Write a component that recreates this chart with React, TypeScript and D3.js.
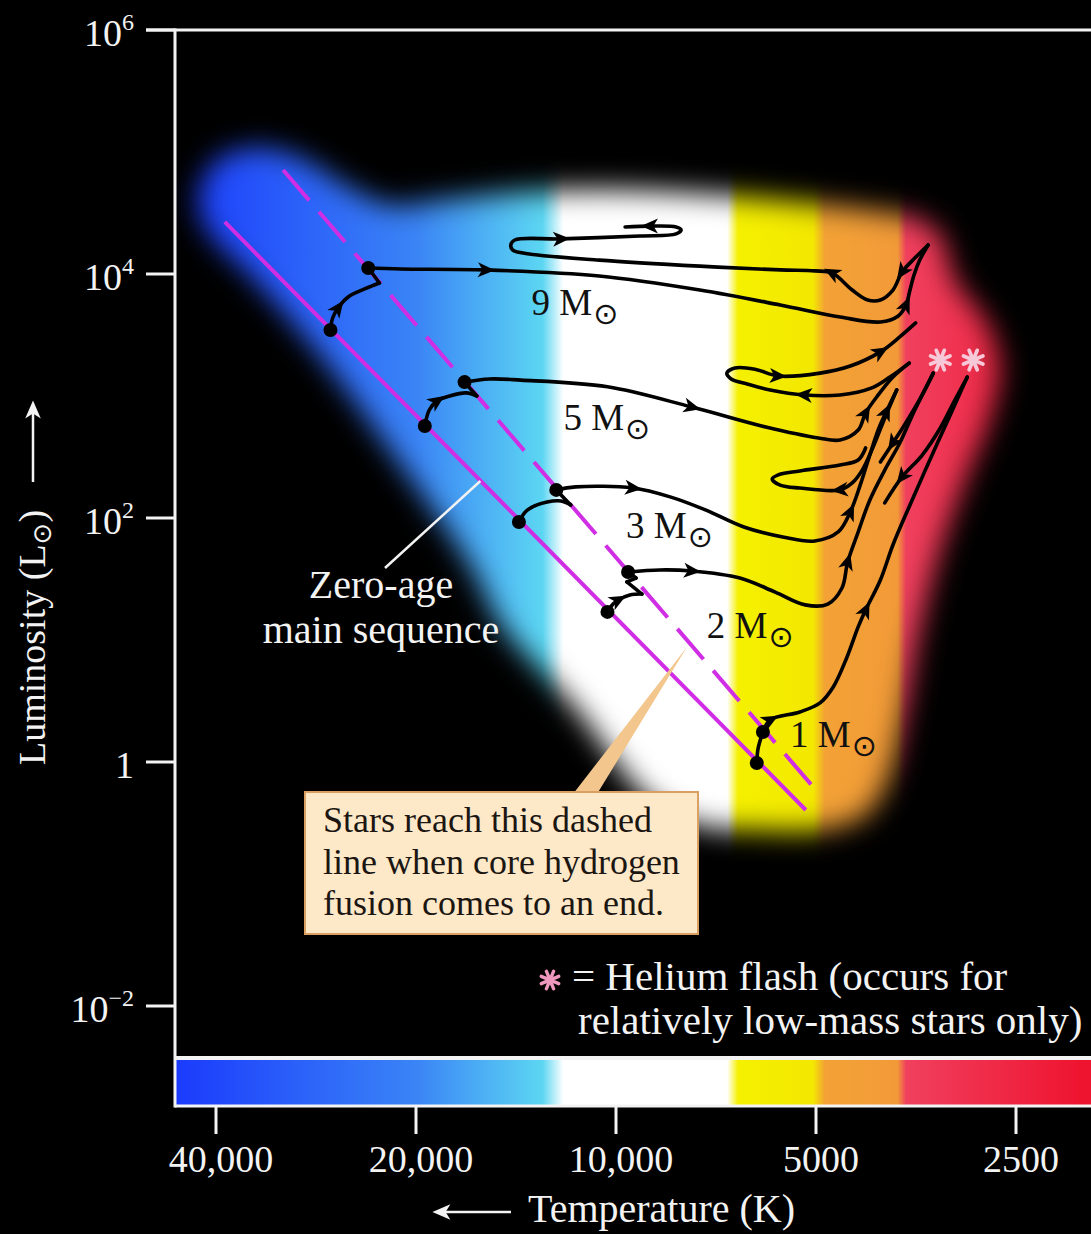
import React from "react";
import * as d3 from "d3";

type Pt = [number, number];

const WIDTH = 1091;
const HEIGHT = 1234;

// Axis ticks: temperature (K, hot to the left) and luminosity (solar units)
const tempTicks = [40000, 20000, 10000, 5000, 2500];
const tempTickLabels = ["40,000", "20,000", "10,000", "5000", "2500"];
const lumTicks = [1e6, 1e4, 1e2, 1, 1e-2];
const lumTickBase = ["10", "10", "10", "1", "10"];
const lumTickExp = ["6", "4", "2", "", "−2"];

// Colour of starlight against surface temperature [T (K), colour]
const colourStops: [number, string][] = [
  [46000, "#1b3bfc"],
  [20000, "#3a84f6"],
  [12900, "#5cd6f2"],
  [12000, "#ffffff"],
  [6800, "#ffffff"],
  [6550, "#f5f000"],
  [5050, "#f3e800"],
  [4850, "#f3a236"],
  [3770, "#f29a38"],
  [3660, "#f0405e"],
  [2000, "#ee1430"],
];

// Zero-age main sequence and end of core hydrogen fusion [T, L]
const zamsLine: Pt[] = [[38800, 26700], [5180, 0.404]];
const tamsLine: Pt[] = [[31700, 71200], [4930, 0.537]];

// Outline of the coloured region behind the tracks [T, L]
const glowEnvelope: Pt[] = [
  [42600, 36800], [41600, 64800], [38800, 94500], [33800, 108000],
  [29400, 86000], [25600, 53600], [21900, 36800], [18400, 40400],
  [13900, 47000], [9860, 48800], [6970, 44400], [5290, 38900],
  [4150, 33500], [3550, 28800], [3250, 20900], [3090, 8930],
  [2780, 4200], [2640, 1800], [2740, 636], [2980, 205],
  [3250, 54.7], [3490, 12.1], [3670, 2.67], [3900, 0.712],
  [4220, 0.368], [4930, 0.277], [6070, 0.277], [7480, 0.305],
  [8890, 0.488], [11600, 2.93], [14900, 13.3], [16600, 41.2],
  [21100, 272], [28200, 2300], [35600, 9810], [40800, 20900],
];

// Evolutionary tracks [T (K), L (L☉)]
const track9: Pt[] = [
  [26900, 3480], [26700, 4360], [26200, 5270], [25300, 6480], [23900, 7540],
  [22700, 8440], [23600, 11200], [21100, 11000], [15700, 10800], [10600, 9630],
  [7480, 7390], [5660, 5570], [4600, 4440], [4000, 4040], [3760, 4530],
  [3660, 5570], [3610, 7390], [3560, 9810], [3490, 13000], [3390, 17300],
  [3550, 13500], [3710, 10400], [3830, 7390], [4000, 6120], [4180, 6120],
  [4410, 7390], [4730, 10200], [5020, 10600], [5660, 10800], [7480, 11600],
  [10600, 13000], [13500, 14600], [14300, 15700], [14400, 17300], [14200, 19000],
  [12100, 19400], [9200, 20500], [8120, 21300], [7980, 23000], [8120, 24300],
  [8890, 24700], [9690, 24300],
];
const track5: Pt[] = [
  [19400, 568], [19100, 768], [18600, 910], [17800, 1000], [16800, 1060],
  [16200, 1000], [16900, 1300], [15500, 1380], [13900, 1350], [10300, 1190],
  [7690, 812], [5950, 557], [4960, 453], [4600, 436], [4320, 526],
  [4210, 726], [4030, 1020], [3830, 1430], [3620, 1860], [3870, 1430],
  [4130, 1160], [4600, 1020], [5210, 1020], [5860, 1120], [6330, 1250],
  [6710, 1380], [6810, 1540], [6620, 1700], [6180, 1660], [5710, 1460],
  [4930, 1540], [4440, 1760], [4000, 2300], [3740, 3050], [3540, 3970],
];
const track3: Pt[] = [
  [14000, 92.7], [13600, 116], [12700, 135], [12100, 138], [11700, 128],
  [12300, 170], [11500, 180], [9430, 176], [8290, 149], [7320, 116],
  [6420, 84.4], [5610, 69.9], [5020, 64.8], [4630, 76.8], [4440, 112],
  [4290, 186], [4150, 328], [4020, 547], [3920, 739], [3780, 1120],
  [3950, 636], [4090, 397], [4260, 247], [4410, 194], [4600, 170],
  [5290, 176], [5660, 186], [5820, 209], [5710, 225], [5290, 243],
  [4600, 272], [4320, 299], [4210, 375],
];
const track2: Pt[] = [
  [10300, 17.0], [10100, 19.7], [9930, 21.3], [9530, 23.4], [9140, 23.8],
  [9630, 29.9], [9330, 32.2], [9590, 36.1], [8590, 37.5], [7690, 36.8],
  [6510, 32.2], [5760, 24.7], [5190, 19.4], [4800, 19.7], [4570, 26.7],
  [4480, 43.6], [4320, 76.8], [4150, 140], [3940, 247], [3740, 412],
  [3550, 768], [3330, 1540], [3460, 1020], [3640, 636], [3830, 412],
  [4000, 288],
];
const track1: Pt[] = [
  [6140, 0.981], [6110, 1.3], [6010, 1.76], [5860, 2.21], [5290, 2.57],
  [4930, 3.05], [4710, 4.12], [4490, 7.26], [4320, 12.8], [4210, 17.6],
  [4000, 31.0], [3830, 60.1], [3610, 128], [3370, 299], [3140, 699],
  [2960, 1430], [3090, 927], [3250, 547], [3460, 328], [3710, 217],
  [3940, 133],
];

// Per-track markers: dots and arrowheads by point index, sharp corners
const trackMasses = ["9", "5", "3", "2", "1"];
const trackLabelAt: Pt[] = [[13400, 4610], [12000, 526], [9660, 68.6], [7300, 10.4], [5470, 1.33]];
const trackDots = [[0, 6], [0, 6], [0, 5], [0, 7], [0, 2]];
const trackArrows = [[2, 8, 15, 21, 26, 35, 40], [2, 10, 15, 22, 29, 32], [7, 14, 18, 24], [2, 9, 15, 24], [3, 9, 19]];
const trackCorners = [[5, 6, 19], [5, 6, 18], [4, 5, 19], [4, 5, 6, 7, 21], [2, 15]];

// Helium flash at the tip of the low-mass giant branches [T, L]
const heliumFlash: Pt[] = [[3250, 1970], [2900, 1970]];

// Annotation anchors on the data [T, L]
const zamsLeaderEnd: Pt = [16000, 201];
const calloutTip: Pt = [7820, 8.76];

const serif = "'Liberation Serif', 'Times New Roman', serif";
const sunFont = "'DejaVu Sans', sans-serif";

function splitAt(points: Pt[], corners: number[]): Pt[][] {
  const cuts = [0, ...corners.filter((c) => c > 0 && c < points.length - 1), points.length - 1];
  const out: Pt[][] = [];
  for (let i = 0; i < cuts.length - 1; i++) out.push(points.slice(cuts[i], cuts[i + 1] + 1));
  return out;
}

function asteriskPath(cx: number, cy: number, r: number): string {
  let d = "";
  for (let k = 0; k < 4; k++) {
    const a = (k * Math.PI) / 4 + Math.PI / 8;
    const dx = Math.cos(a) * r;
    const dy = Math.sin(a) * r;
    d += `M${cx - dx},${cy - dy}L${cx + dx},${cy + dy}`;
  }
  return d;
}

export default function App() {
  const x = d3.scaleLog().domain([40000, 2500]).range([216, 1016]);
  const y = d3.scaleLog().domain([1e-2, 1e6]).range([1006, 30]);

  const plotLeft = 175;
  const plotTop = 30;
  const barTop = 1059;
  const barBottom = 1106;

  const line = d3
    .line<Pt>()
    .x((d) => x(d[0]))
    .y((d) => y(d[1]))
    .curve(d3.curveCatmullRom.alpha(0.5));
  const straight = d3.line<Pt>().x((d) => x(d[0])).y((d) => y(d[1]));
  const closed = d3
    .line<Pt>()
    .x((d) => x(d[0]))
    .y((d) => y(d[1]))
    .curve(d3.curveCatmullRomClosed.alpha(0.5));

  const tracks = [track9, track5, track3, track2, track1];
  const gradSpan = WIDTH - plotLeft;

  const arrowHead = "M9,0L-8,-7.5L-3.5,0L-8,7.5Z";
  const white = "#f3f3f3";

  const tipX = x(calloutTip[0]);
  const tipY = y(calloutTip[1]);

  return (
    <svg
      width={WIDTH}
      height={HEIGHT}
      viewBox={`0 0 ${WIDTH} ${HEIGHT}`}
      style={{ position: "absolute", left: 0, top: 0, display: "block", background: "#000" }}
    >
      <defs>
        <linearGradient id="tempGrad" gradientUnits="userSpaceOnUse" x1={plotLeft} y1={0} x2={WIDTH} y2={0}>
          {colourStops.map(([t, c], i) => (
            <stop key={i} offset={Math.max(0, Math.min(1, (x(t) - plotLeft) / gradSpan))} stopColor={c} />
          ))}
        </linearGradient>
        <filter id="glowBlur" x="-20%" y="-20%" width="140%" height="140%">
          <feGaussianBlur stdDeviation={14} />
        </filter>
        <mask id="glowMask" maskUnits="userSpaceOnUse" x={0} y={0} width={WIDTH} height={HEIGHT}>
          <rect x={0} y={0} width={WIDTH} height={HEIGHT} fill="#000" />
          <path d={closed(glowEnvelope) || ""} fill="#fff" filter="url(#glowBlur)" />
        </mask>
        <clipPath id="plotClip">
          <rect x={plotLeft + 1} y={plotTop + 1} width={WIDTH - plotLeft} height={barTop - plotTop - 3} />
        </clipPath>
      </defs>

      <rect x={0} y={0} width={WIDTH} height={HEIGHT} fill="#000" />

      {/* coloured temperature glow */}
      <g clipPath="url(#plotClip)">
        <rect
          x={plotLeft}
          y={plotTop}
          width={WIDTH - plotLeft}
          height={barTop - plotTop}
          fill="url(#tempGrad)"
          mask="url(#glowMask)"
        />
      </g>

      {/* main-sequence lines */}
      <path d={straight(zamsLine) || ""} stroke="#d02ee4" strokeWidth={4} fill="none" />
      <path
        d={straight(tamsLine) || ""}
        stroke="#d02ee4"
        strokeWidth={4}
        fill="none"
        strokeDasharray="40 15"
      />

      {/* evolutionary tracks */}
      {tracks.map((pts, ti) => (
        <g key={ti}>
          {splitAt(pts, trackCorners[ti]).map((seg, si) => (
            <path
              key={si}
              d={line(seg) || ""}
              stroke="#000"
              strokeWidth={3.6}
              fill="none"
              strokeLinejoin="round"
              strokeLinecap="round"
            />
          ))}
          {trackDots[ti].map((i) => (
            <circle key={`d${i}`} cx={x(pts[i][0])} cy={y(pts[i][1])} r={7} fill="#000" />
          ))}
          {trackArrows[ti].map((i) => {
            const p = pts[i];
            const a = pts[Math.max(0, i - 1)];
            const b = pts[Math.min(pts.length - 1, i + 1)];
            const ang = (Math.atan2(y(b[1]) - y(a[1]), x(b[0]) - x(a[0])) * 180) / Math.PI;
            return (
              <path
                key={`a${i}`}
                d={arrowHead}
                fill="#000"
                transform={`translate(${x(p[0])},${y(p[1])}) rotate(${ang})`}
              />
            );
          })}
          <text
            x={x(trackLabelAt[ti][0])}
            y={y(trackLabelAt[ti][1])}
            fontFamily={serif}
            fontSize={37}
            fill="#111"
          >
            {trackMasses[ti]} M
            <tspan fontFamily={sunFont} fontSize={30} dy={9} dx={1}>
              ⊙
            </tspan>
          </text>
        </g>
      ))}

      {/* helium flash markers */}
      {heliumFlash.map((p, i) => (
        <path
          key={i}
          d={asteriskPath(x(p[0]), y(p[1]), 10.5)}
          stroke="#f6c8d8"
          strokeWidth={3.8}
          strokeLinecap="round"
        />
      ))}

      {/* zero-age main sequence label */}
      <line
        x1={385}
        y1={568}
        x2={x(zamsLeaderEnd[0])}
        y2={y(zamsLeaderEnd[1])}
        stroke={white}
        strokeWidth={2.5}
      />
      <text x={381} y={598} textAnchor="middle" fontFamily={serif} fontSize={40} fill={white}>
        Zero-age
      </text>
      <text x={381} y={643} textAnchor="middle" fontFamily={serif} fontSize={40} fill={white}>
        main sequence
      </text>

      {/* callout */}
      <path d={`M573,794L597,794L${tipX},${tipY}Z`} fill="#f2c68c" />
      <rect x={305} y={792} width={393} height={142} fill="#fde8c8" stroke="#d9a062" strokeWidth={2} />
      {["Stars reach this dashed", "line when core hydrogen", "fusion comes to an end."].map((t, i) => (
        <text key={i} x={323} y={832 + i * 41.5} fontFamily={serif} fontSize={36} fill="#1c1612">
          {t}
        </text>
      ))}

      {/* helium flash key */}
      <path d={asteriskPath(550, 980, 9.5)} stroke="#ee98bd" strokeWidth={3.4} strokeLinecap="round" />
      <text x={572} y={990} fontFamily={serif} fontSize={41} fill={white}>
        = Helium flash (occurs for
      </text>
      <text x={578} y={1034} fontFamily={serif} fontSize={41} fill={white}>
        relatively low-mass stars only)
      </text>

      {/* temperature colour bar */}
      <rect x={plotLeft} y={barTop} width={WIDTH - plotLeft + 4} height={barBottom - barTop} fill="url(#tempGrad)" />
      <line x1={plotLeft} y1={barTop - 1} x2={WIDTH} y2={barTop - 1} stroke={white} strokeWidth={4} />
      <line x1={plotLeft} y1={barBottom} x2={WIDTH} y2={barBottom} stroke={white} strokeWidth={3} />

      {/* frame and axes */}
      <line x1={146} y1={plotTop} x2={WIDTH} y2={plotTop} stroke={white} strokeWidth={3} />
      <line x1={plotLeft} y1={plotTop - 1.5} x2={plotLeft} y2={barBottom + 1.5} stroke={white} strokeWidth={3} />
      {lumTicks.map((v, i) => (
        <g key={i}>
          <line x1={146} y1={y(v)} x2={plotLeft} y2={y(v)} stroke={white} strokeWidth={3} />
          <text
            x={134}
            y={y(v) + 16}
            textAnchor="end"
            fontFamily={serif}
            fontSize={38}
            fill={white}
          >
            {lumTickBase[i]}
            {lumTickExp[i] && (
              <tspan dy={-16} fontSize={24}>
                {lumTickExp[i]}
              </tspan>
            )}
          </text>
        </g>
      ))}
      {tempTicks.map((t, i) => (
        <g key={i}>
          <line x1={x(t)} y1={barBottom} x2={x(t)} y2={1134} stroke={white} strokeWidth={3} />
          <text x={x(t) + 5} y={1172} textAnchor="middle" fontFamily={serif} fontSize={38} fill={white}>
            {tempTickLabels[i]}
          </text>
        </g>
      ))}

      {/* axis titles */}
      <line x1={511} y1={1212} x2={444} y2={1212} stroke={white} strokeWidth={2.5} />
      <path d="M-8,0L7,-6.5L3,0L7,6.5Z" transform="translate(442,1212) scale(1.2)" fill={white} />
      <text x={528} y={1222} fontFamily={serif} fontSize={40} fill={white}>
        Temperature (K)
      </text>

      <text transform="translate(45,765) rotate(-90)" fontFamily={serif} fontSize={38} fill={white}>
        Luminosity (L
        <tspan fontFamily={sunFont} fontSize={26} dy={6}>
          ⊙
        </tspan>
        <tspan dy={-6}>)</tspan>
      </text>
      <line x1={33} y1={482} x2={33} y2={412} stroke={white} strokeWidth={2.5} />
      <path d="M0,-8L-6.5,7L0,3L6.5,7Z" transform="translate(33,410) scale(1.2)" fill={white} />
    </svg>
  );
}
